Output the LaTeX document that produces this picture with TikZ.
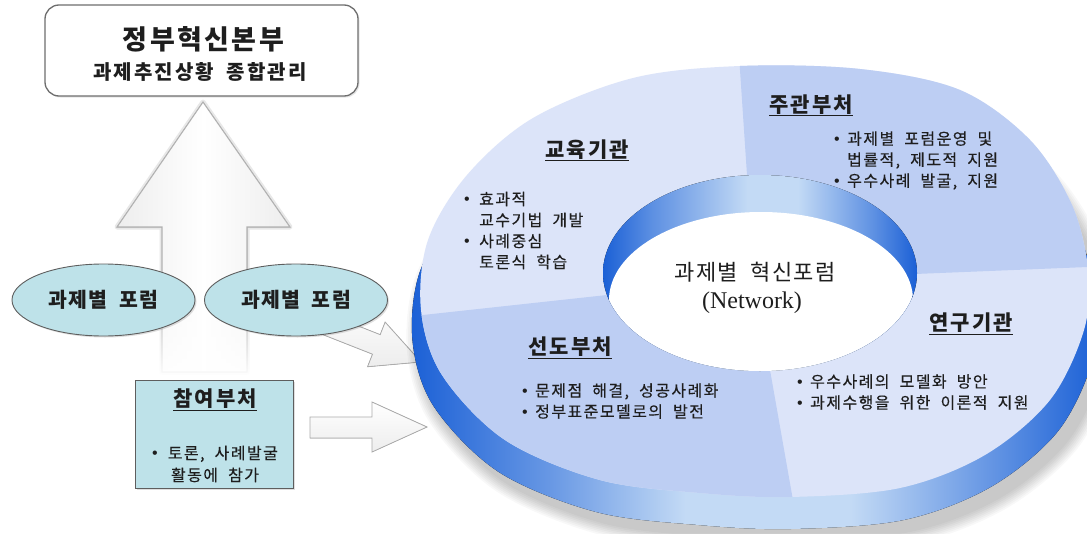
\documentclass[tikz,border=0pt]{standalone}
\usepackage{fontspec}
\setmainfont{Noto Sans CJK KR}[WordSpace=2.0]
\newfontfamily\latinserif{Liberation Serif}
\newfontfamily\bulletfont{Liberation Sans}
\usetikzlibrary{shapes.geometric,shadows,fadings}
\definecolor{txt}{HTML}{1E1E1E}
\definecolor{cyanfill}{HTML}{BEE2E9}
\definecolor{edgegray}{HTML}{5E5E5E}
\definecolor{boxgray}{HTML}{6E6E6E}
\definecolor{facelight}{HTML}{DCE4F9}
\definecolor{facedark}{HTML}{BDCEF3}
\definecolor{dblue}{HTML}{1B60D6}
\definecolor{lblue}{HTML}{C3DAF5}
\pgfdeclarehorizontalshading{ringside}{100bp}{color(0bp)=(dblue); color(25bp)=(dblue); color(35bp)=(dblue!55!lblue); color(45bp)=(lblue); color(57bp)=(lblue); color(67bp)=(dblue!55!lblue); color(75bp)=(dblue); color(100bp)=(dblue)}
\pgfdeclarehorizontalshading{holeband}{100bp}{color(0bp)=(dblue); color(25bp)=(dblue); color(33bp)=(dblue!60!lblue); color(48bp)=(lblue); color(56bp)=(lblue); color(68bp)=(dblue!60!lblue); color(75bp)=(dblue); color(100bp)=(dblue)}
\tikzfading[name=fadedown, top color=transparent!100, bottom color=transparent!0]
\newcommand{\bl}[1]{\makebox[#1][l]{\bulletfont •}}
\tikzset{
  txtbase/.style={text=txt, inner sep=0pt},
  body/.style={txtbase, font=\fontsize{16pt}{21pt}\selectfont\addfontfeature{LetterSpace=9,FakeBold=0.3}, align=left, anchor=west},
  ttl/.style={txtbase, font=\bfseries\fontsize{21pt}{24pt}\selectfont\addfontfeature{LetterSpace=10}, anchor=base},
  forum/.style={ellipse, draw=edgegray, line width=0.9pt, fill=cyanfill, minimum width=183pt, minimum height=72pt, inner sep=0pt, text=txt, font=\bfseries\fontsize{20.5pt}{24pt}\selectfont\addfontfeature{LetterSpace=6}, drop shadow={opacity=0.25, shadow xshift=1.5pt, shadow yshift=-1.5pt}},
  blockarrow/.style={draw=gray!65, line width=0.8pt, top color=white, bottom color=gray!14, line join=miter},
}
\def\facepath{plot[smooth cycle, tension=0.55] coordinates {(740,66) (860,69) (960,90) (1030,140) (1072,205) (1088,270) (1084,330) (1050,400) (985,455) (900,488) (790,497) (700,493) (600,480) (505,440) (442,375) (421,310) (428,240) (467,175) (533,118) (633,78)}}
\begin{document}
\begin{tikzpicture}[x=1pt,y=-1pt]
\useasboundingbox (0,0) rectangle (1087,533);
\fill[white] (0,0) rectangle (1087,533);

% big up arrow
\draw[gray!18, line width=5pt, line join=round] (203,102) -- (290,227) -- (247,227) -- (247,372) -- (162,372) -- (162,227) -- (117,227) -- cycle;
\filldraw[draw=gray!60, line width=1.1pt, left color=gray!14, right color=gray!14, middle color=white] (203,102) -- (290,227) -- (247,227) -- (247,372) -- (162,372) -- (162,227) -- (117,227) -- cycle;
\fill[white, path fading=fadedown] (140,292) rectangle (270,380);

% diagonal arrow
\begin{scope}[shift={(421,362)}, rotate=-21.5]
  \filldraw[blockarrow] (0,0) -- (-48,-24) -- (-48,-10.5) -- (-150,-10.5) -- (-150,10.5) -- (-48,10.5) -- (-48,24) -- cycle;
\end{scope}
% horizontal arrow
\filldraw[blockarrow] (427,427) -- (372,402) -- (372,417) -- (310,417) -- (310,438) -- (372,438) -- (372,452) -- cycle;

% ring shadow
\foreach \k in {1,...,8}{
  \pgfmathsetmacro{\sx}{1.025+0.005*\k}
  \pgfmathsetmacro{\sy}{1.0+0.008*\k}
  \fill[black, opacity=0.028, shift={(764,332)}, xscale=\sx, yscale=\sy, shift={(-756,-290)}] \facepath;
}
% ring side
\fill[shading=ringside, shift={(756,322)}, xscale=1.025, shift={(-756,-290)}] \facepath;
% top face
\fill[facelight] \facepath;
\begin{scope}
  \clip \facepath;
  \fill[facedark] (738,40) -- (747,175) -- (915,274) -- (1100,266.5) -- (1100,40) -- cycle;
  \fill[facedark] (400,317.5) -- (607,295) -- (770,370) -- (800,540) -- (400,540) -- cycle;
\end{scope}
% hole
\fill[shading=holeband] (760,273) ellipse [x radius=157pt, y radius=98pt];
\begin{scope}
  \clip (760,273) ellipse [x radius=157pt, y radius=98pt];
  \fill[white] (761,300) ellipse [x radius=152pt, y radius=88pt];
\end{scope}

% ring texts
\node[txtbase, font=\fontsize{22pt}{26pt}\selectfont\addfontfeature{LetterSpace=6}, anchor=base] (hubko) at (755,280) {과제별 혁신포럼};
\node[txtbase, font=\latinserif\fontsize{24pt}{28pt}\selectfont, anchor=base] (huben) at (752,308) {(Network)};

\node[ttl] (edut) at (587,157) {\underline{교육기관}};
\node[body] (edub) at (464,230.5) {\bl{15pt}효과적\\\hspace*{15pt}교수기법 개발\\\bl{15pt}사례중심\\\hspace*{15pt}토론식 학습};

\node[ttl] (mint) at (811,112) {\underline{주관부처}};
\node[body] (minb) at (834,160.5) {\bl{13pt}과제별 포럼운영 및\\\hspace*{13pt}법률적, 제도적 지원\\\bl{13pt}우수사례 발굴, 지원};

\node[ttl] (rest) at (971,330.5) {\underline{연구기관}};
\node[body] (resb) at (797,392) {\bl{13pt}우수사례의 모델화 방안\\\bl{13pt}과제수행을 위한 이론적 지원};

\node[ttl] (leadt) at (570,354.5) {\underline{선도부처}};
\node[body] (leadb) at (522,401) {\bl{13pt}문제점 해결, 성공사례화\\\bl{13pt}정부표준모델로의 발전};

% top box
\node[draw=boxgray, line width=1.3pt, rounded corners=14pt, fill=white, minimum width=313pt, minimum height=91pt, drop shadow={opacity=0.2, shadow xshift=1.5pt, shadow yshift=-1.5pt}] (gov) at (201.5,50.5) {};
\node[txtbase, font=\bfseries\fontsize{27pt}{30pt}\selectfont\addfontfeature{LetterSpace=9}, anchor=base] (govt) at (203.5,49.5) {정부혁신본부};
\node[txtbase, font=\bfseries\fontsize{20pt}{24pt}\selectfont\addfontfeature{LetterSpace=10}, anchor=base] (govs) at (200,79) {과제추진상황 종합관리};

% forum ellipses
\node[forum] (f1) at (103.5,300) {과제별 포럼};
\node[forum] (f2) at (296,300) {과제별 포럼};

% participating ministries box
\node[draw=edgegray, line width=1pt, fill=cyanfill, minimum width=158pt, minimum height=108pt, drop shadow={opacity=0.25, shadow xshift=1.5pt, shadow yshift=-1.5pt}] (part) at (214,434) {};
\node[ttl] (partt) at (215,406.5) {\underline{참여부처}};
\node[txtbase, font=\fontsize{16pt}{22pt}\selectfont\addfontfeature{LetterSpace=9,FakeBold=0.3}, align=center] (partb) at (215,464) {{\bulletfont •} 토론, 사례발굴\\활동에 참가};
\end{tikzpicture}
\end{document}
